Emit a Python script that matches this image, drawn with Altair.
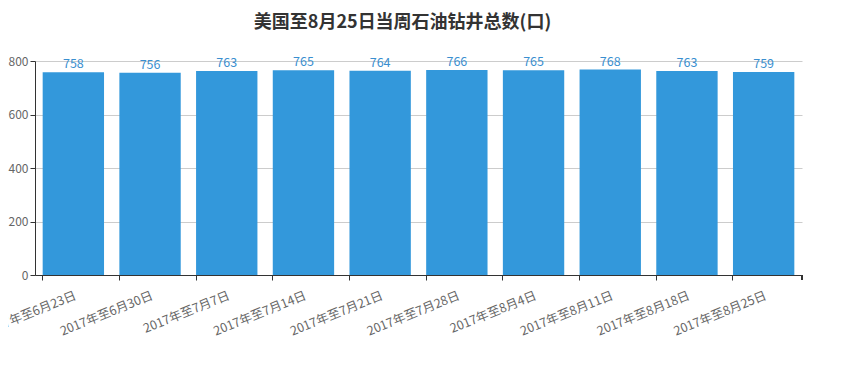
import altair as alt
import pandas as pd

dates = ["2017年至6月23日", "2017年至6月30日", "2017年至7月7日", "2017年至7月14日",
         "2017年至7月21日", "2017年至7月28日", "2017年至8月4日", "2017年至8月11日",
         "2017年至8月18日", "2017年至8月25日"]
counts = [758, 756, 763, 765, 764, 766, 765, 768, 763, 759]

df = pd.DataFrame({"date": dates, "count": counts})

W, H = 767, 214
font = "Noto Sans CJK SC"

x = alt.X("date:N", sort=dates, title=None,
          scale=alt.Scale(paddingInner=0.2, paddingOuter=0.1),
          axis=alt.Axis(bandPosition=0, labelAngle=-22,
                        labelAlign="right", labelBaseline="top", labelFontSize=12.5,
                        labelColor="#666", labelFont=font, domainColor="#333",
                        tickColor="#333", tickSize=5, labelPadding=9, grid=False))
y = alt.Y("count:Q", title=None, scale=alt.Scale(domain=[0, 800]),
          axis=alt.Axis(values=[0, 200, 400, 600, 800], labelFontSize=12, labelColor="#666",
                        labelFont=font, domainColor="#333", tickColor="#333", tickSize=5,
                        gridColor="#ccc", labelPadding=2))

bars = alt.Chart(df).mark_bar(color="#3398DB").encode(x=x, y=y)
labels = alt.Chart(df).mark_text(dy=-8, color="#3a8fd0", fontSize=12.5, font=font).encode(
    x=alt.X("date:N", sort=dates), y="count:Q", text="count:Q")
endtick = alt.Chart(df).mark_rule(color="#333").encode(
    x=alt.value(W), y=alt.value(H), y2=alt.value(H + 5))

chart = alt.layer(bars, labels, endtick).properties(
    width=W, height=H,
    autosize=alt.AutoSizeParams(type="none"),
    padding={"left": 27, "top": 53, "right": 20, "bottom": 90},
    title=alt.TitleParams("美国至8月25日当周石油钻井总数(口)", fontSize=18, font=font,
                          fontWeight="bold", color="#333", anchor="middle", dx=-16, offset=23),
).configure_view(stroke=None)

chart.save("out.html", embed_options={"renderer": "svg", "actions": False})
